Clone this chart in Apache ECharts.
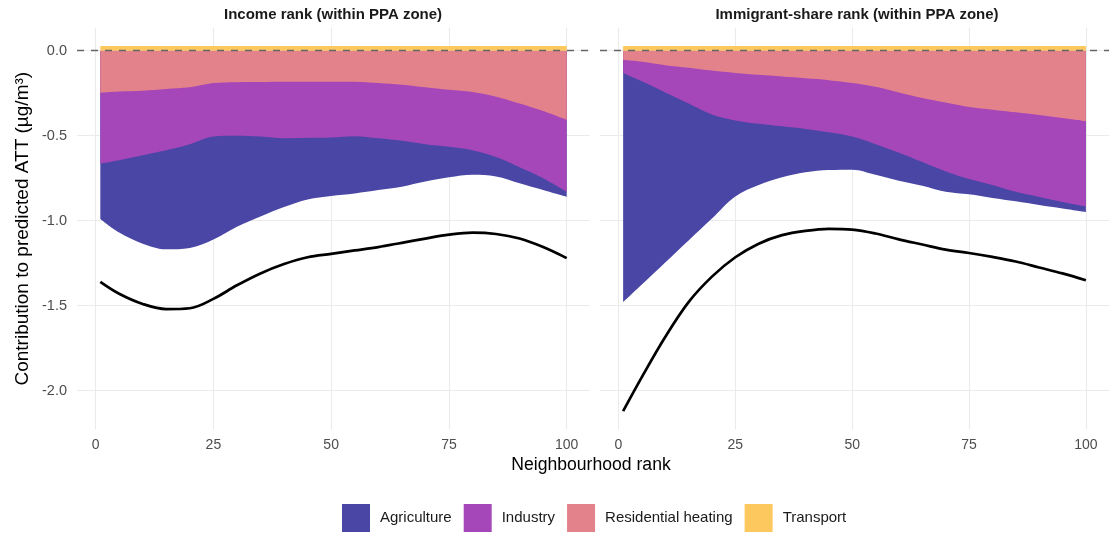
<!DOCTYPE html>
<html><head><meta charset="utf-8">
<script src="https://cdn.jsdelivr.net/npm/echarts@6/dist/echarts.min.js"></script>
<style>html,body{margin:0;padding:0;background:#fff}#c{width:1109px;height:533px}</style>
</head><body><div id="c"></div>
<script>
// Neighbourhood rank (x)
const ranks = [1,5,10,15,20,25,30,35,40,45,50,55,60,65,70,75,80,85,90,95,100];
const xTicks = [0,25,50,75,100];
const yTicks = [-2,-1.5,-1,-0.5,0];
const panelTitles = ['Income rank (within PPA zone)', 'Immigrant-share rank (within PPA zone)'];
const sectors = ['Agriculture','Industry','Residential heating','Transport'];

// Panel 1: Income rank — sector contributions
const incomeHeating = [-0.247,-0.240,-0.235,-0.225,-0.215,-0.190,-0.185,-0.184,-0.183,-0.182,-0.182,-0.182,-0.190,-0.200,-0.215,-0.230,-0.243,-0.270,-0.310,-0.355,-0.407];
const incomeIndustry = [-0.418,-0.405,-0.380,-0.360,-0.335,-0.315,-0.315,-0.321,-0.332,-0.330,-0.328,-0.321,-0.325,-0.330,-0.335,-0.335,-0.342,-0.355,-0.375,-0.395,-0.423];
const incomeAgriculture = [-0.325,-0.425,-0.520,-0.583,-0.610,-0.605,-0.535,-0.470,-0.405,-0.363,-0.345,-0.337,-0.305,-0.270,-0.220,-0.180,-0.145,-0.115,-0.095,-0.070,-0.030];
const incomeTransport = [0.028,0.028,0.028,0.028,0.028,0.028,0.028,0.028,0.028,0.028,0.028,0.028,0.028,0.028,0.028,0.028,0.028,0.028,0.028,0.028,0.028];
const incomeTotal = [-1.360,-1.430,-1.490,-1.520,-1.515,-1.460,-1.380,-1.310,-1.255,-1.215,-1.195,-1.175,-1.155,-1.130,-1.105,-1.082,-1.070,-1.078,-1.105,-1.155,-1.220];

// Panel 2: Immigrant-share rank — sector contributions
const immHeating = [-0.053,-0.065,-0.085,-0.100,-0.117,-0.131,-0.142,-0.152,-0.162,-0.173,-0.190,-0.212,-0.245,-0.278,-0.305,-0.331,-0.347,-0.362,-0.378,-0.396,-0.416];
const immIndustry = [-0.078,-0.115,-0.160,-0.210,-0.258,-0.279,-0.288,-0.293,-0.298,-0.307,-0.315,-0.338,-0.355,-0.377,-0.405,-0.424,-0.443,-0.468,-0.482,-0.494,-0.500];
const immAgriculture = [-1.349,-1.196,-1.001,-0.806,-0.612,-0.447,-0.360,-0.300,-0.255,-0.222,-0.195,-0.180,-0.165,-0.140,-0.120,-0.090,-0.076,-0.056,-0.048,-0.038,-0.033];
const immTransport = [0.028,0.028,0.028,0.028,0.028,0.028,0.028,0.028,0.028,0.028,0.028,0.028,0.028,0.028,0.028,0.028,0.028,0.028,0.028,0.028,0.028];
const immTotal = [-2.120,-1.920,-1.684,-1.479,-1.329,-1.215,-1.135,-1.085,-1.060,-1.048,-1.052,-1.075,-1.110,-1.140,-1.170,-1.190,-1.213,-1.240,-1.275,-1.310,-1.350];

// fill colours (plasma, alpha 0.75 on white)
const colors = {
  'Agriculture': '#4a46a5',
  'Industry': '#a546b9',
  'Residential heating': '#e3828b',
  'Transport': '#fdc85e'
};
const FONT = 'Liberation Sans, Arial, sans-serif';

const panels = [
  {heating: incomeHeating, industry: incomeIndustry, agriculture: incomeAgriculture, transport: incomeTransport, total: incomeTotal},
  {heating: immHeating, industry: immIndustry, agriculture: immAgriculture, transport: immTransport, total: immTotal}
];

const grids = [
  {left: 77, top: 27.7, width: 513, height: 402},
  {left: 600, top: 27.7, width: 514, height: 402}
];

const xAxes = grids.map((g, i) => ({
  gridIndex: i, type: 'value', min: -3.95, max: 104.95,
  axisLine: {show: false},
  axisTick: {show: false, customValues: xTicks},
  axisLabel: {customValues: xTicks, color: '#4d4d4d', fontSize: 14, fontFamily: FONT, margin: 8},
  splitLine: {show: true, lineStyle: {color: '#ebebeb', width: 1.1}}
}));

const yAxes = grids.map((g, i) => ({
  gridIndex: i, type: 'value', min: -2.2295, max: 0.1355,
  axisLine: {show: false},
  axisTick: {show: false, customValues: yTicks},
  axisLabel: {show: i === 0, customValues: yTicks, color: '#4d4d4d', fontSize: 14.5, fontFamily: FONT, margin: 10,
    formatter: v => Number(v).toFixed(1)},
  splitLine: {show: true, lineStyle: {color: '#ebebeb', width: 1.1}},
  name: i === 0 ? 'Contribution to predicted ATT (µg/m³)' : '',
  nameLocation: 'middle', nameRotate: 90, nameGap: 45,
  nameTextStyle: {fontSize: 19, color: '#000', fontFamily: FONT}
}));

const series = [];
panels.forEach((p, i) => {
  // cumulative stack boundaries (heating from 0, then industry, then agriculture)
  const lvlHeat = ranks.map((x, k) => [x, p.heating[k]]);
  const lvlInd = ranks.map((x, k) => [x, p.heating[k] + p.industry[k]]);
  const lvlAgr = ranks.map((x, k) => [x, p.heating[k] + p.industry[k] + p.agriculture[k]]);
  const lvlTr = ranks.map((x, k) => [x, p.transport[k]]);
  const area = (name, data) => ({
    name, type: 'line', xAxisIndex: i, yAxisIndex: i, data,
    smooth: 0.35, showSymbol: false, symbol: 'none',
    lineStyle: {width: 0}, itemStyle: {color: colors[name]},
    areaStyle: {color: colors[name], opacity: 1, origin: 0}, silent: true
  });
  // deepest boundary first so shallower layers paint over it
  series.push(area('Agriculture', lvlAgr));
  series.push(area('Industry', lvlInd));
  series.push(area('Residential heating', lvlHeat));
  series.push(area('Transport', lvlTr));
  series.push({
    name: 'Predicted ATT', type: 'line', xAxisIndex: i, yAxisIndex: i,
    data: ranks.map((x, k) => [x, p.total[k]]),
    smooth: 0.35, showSymbol: false, symbol: 'none', silent: true,
    lineStyle: {color: '#000', width: 2.7}, itemStyle: {color: '#000'},
    markLine: {
      silent: true, symbol: ['none', 'none'], label: {show: false},
      lineStyle: {type: [7, 7], color: '#666', width: 1.3},
      data: [{yAxis: 0}]
    }
  });
});

const chart = echarts.init(document.getElementById('c'), null, {renderer: 'canvas'});
chart.setOption({
  animation: false,
  backgroundColor: '#fff',
  grid: grids,
  xAxis: xAxes,
  yAxis: yAxes,
  legend: {
    data: sectors, left: 342, top: 504, padding: 0, icon: 'rect', itemWidth: 28, itemHeight: 28, itemGap: 12,
    textStyle: {fontSize: 15, color: '#1a1a1a', fontFamily: FONT, padding: [0, 0, 0, 5]},
    selectedMode: false
  },
  graphic: [
    {type: 'text', x: 333, y: 15, silent: true,
     style: {text: panelTitles[0], x: 0, y: 0, textAlign: 'center', textVerticalAlign: 'middle', font: 'bold 15px ' + FONT, fill: '#1a1a1a'}},
    {type: 'text', x: 857, y: 15, silent: true,
     style: {text: panelTitles[1], x: 0, y: 0, textAlign: 'center', textVerticalAlign: 'middle', font: 'bold 15px ' + FONT, fill: '#1a1a1a'}},
    {type: 'text', x: 591, y: 465, silent: true,
     style: {text: 'Neighbourhood rank', x: 0, y: 0, textAlign: 'center', textVerticalAlign: 'middle', font: '17.6px ' + FONT, fill: '#000'}}
  ],
  series
});
</script>
</body></html>
